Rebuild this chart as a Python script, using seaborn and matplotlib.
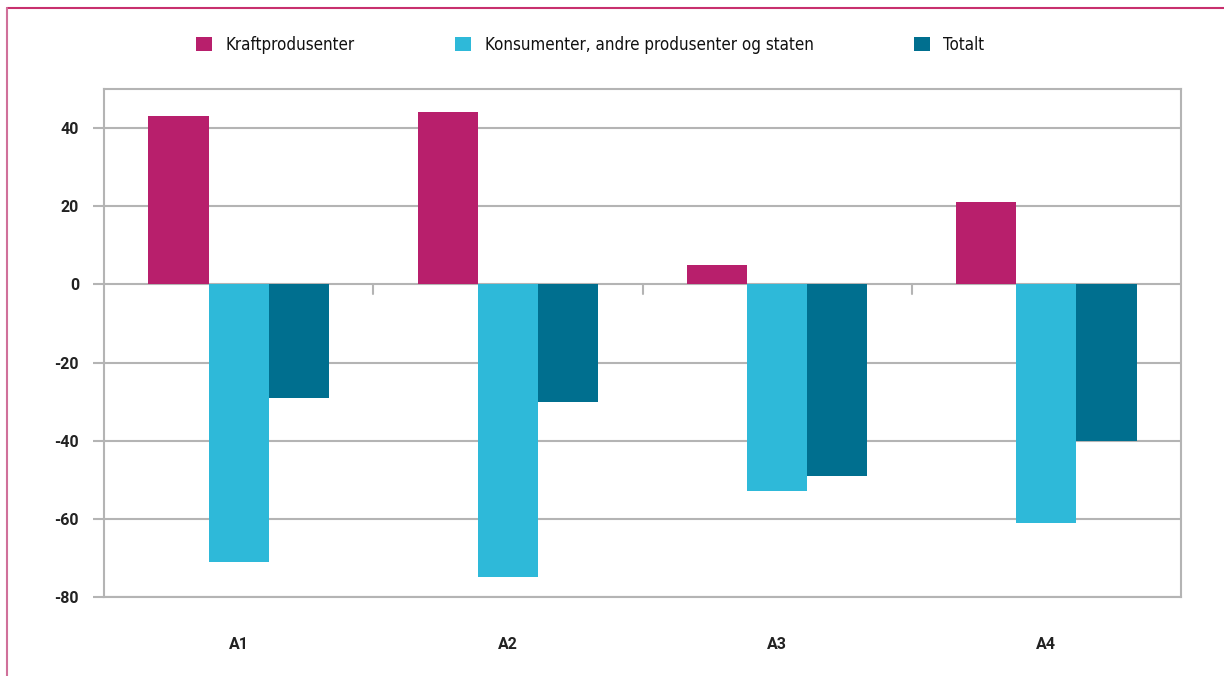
import matplotlib
matplotlib.use("Agg")
import matplotlib.pyplot as plt
import seaborn as sns
import pandas as pd
from matplotlib.patches import Patch
from matplotlib.lines import Line2D

categories = ["A1", "A2", "A3", "A4"]
series_names = ["Kraftprodusenter", "Konsumenter, andre produsenter og staten", "Totalt"]
kraft = [43, 44, 5, 21]
konsum = [-71, -75, -53, -61]
totalt = [-29, -30, -49, -40]
y_ticks = [-80, -60, -40, -20, 0, 20, 40]
colors = ["#b81f6c", "#2eb9d9", "#006f8f"]

rows = []
for name, vals in zip(series_names, [kraft, konsum, totalt]):
    for c, v in zip(categories, vals):
        rows.append({"cat": c, "series": name, "value": v})
df = pd.DataFrame(rows)

sns.set_theme(style="white")
plt.rcParams["font.family"] = ["Roboto", "DejaVu Sans"]

fig = plt.figure(figsize=(12.24, 6.76), dpi=100)
ax = fig.add_axes([104/1224, 1-597/676, (1181-104)/1224, (597-89)/676])

sns.barplot(data=df, x="cat", y="value", hue="series", palette=colors,
            order=categories, hue_order=series_names, width=0.67,
            saturation=1, ax=ax, legend=False, errorbar=None, linewidth=0)

grid_c = "#b4b4b4"
tick_font = {"family": ["Roboto", "DejaVu Sans"], "weight": "bold", "size": 11.5}
ax.set_ylim(-80, 50)
ax.set_xlim(-0.5, 3.5)
ax.set_yticks(y_ticks)
ax.set_yticklabels([str(t) for t in y_ticks], fontdict=tick_font, color="#222222")
ax.yaxis.grid(True, color=grid_c, linewidth=1.5)
ax.set_axisbelow(True)
for s in ax.spines.values():
    s.set_color(grid_c)
    s.set_linewidth(1.5)
ax.tick_params(axis="y", direction="out", length=8, width=1.5, color=grid_c, pad=10, left=True)
ax.tick_params(axis="x", length=0, pad=29)
ax.set_xticklabels(categories, fontdict=tick_font, color="#222222")
ax.set_xlabel("")
ax.set_ylabel("")
# boundary ticks hanging from the zero line
for b in [0.5, 1.5, 2.5]:
    ax.plot([b, b], [0, -2.5], color=grid_c, linewidth=1.5, zorder=0.5)

handles = [Patch(facecolor=c, edgecolor="none") for c in colors]
leg = fig.legend(handles, series_names, loc="center left", bbox_to_anchor=(181/1224, 1-45/676),
                 ncol=3, frameon=False, handlelength=0.95, handleheight=0.95,
                 handletextpad=0.8, columnspacing=5.9,
                 prop={"family": ["DejaVu Sans"], "stretch": "condensed", "size": 12.2})
for t in leg.get_texts():
    t.set_color("#111111")

# page border lines
bc = "#c8306e"
fig.add_artist(Line2D([7/1224, 1], [1-8/676, 1-8/676], transform=fig.transFigure, color=bc, linewidth=1.5))
fig.add_artist(Line2D([7/1224, 7/1224], [0, 1-8/676], transform=fig.transFigure, color="#d0709a", linewidth=1.5))

fig.savefig("out.png", dpi=100)
